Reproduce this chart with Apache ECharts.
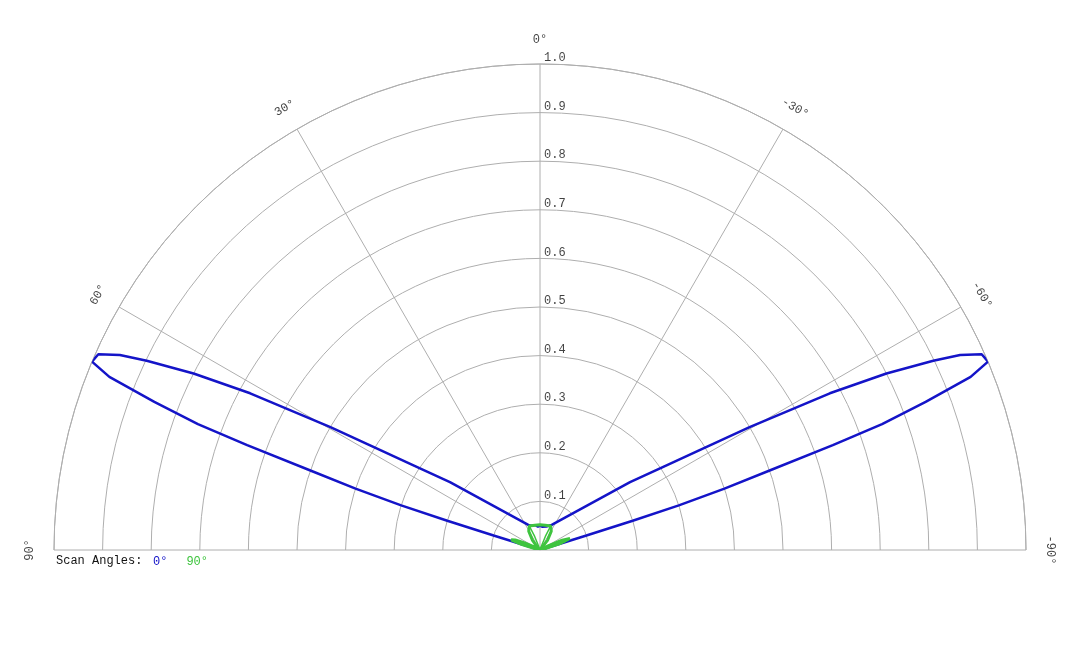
<!DOCTYPE html>
<html lang="en">
<head>
    <meta charset="UTF-8">
    <title>Scan Angles</title>
    <script src="https://cdn.jsdelivr.net/npm/echarts@6.0.0/dist/echarts.min.js"></script>
</head>
<style>
    *{
        margin: 0;
        padding: 0;
    }
    html,body{
        width: 100%;
        height: 100%;
        overflow: hidden;
        background: #fff;
    }
    .container{
        width: 1080px;
        height: 648px;
    }
</style>
<body>
<div class="container"></div>
<script>
    // scan angle 0 deg (blue), right lobe -> cap -> left lobe
    let blueAngles = [-90, -76, -73, -72.8, -72.7, -72.5, -72.2, -71.6, -70.9, -70.3, -69.8, -69.0, -68.1, -67.2,
        -66.1, -65.1, -64.3, -63.0, -61.6, -59.6, -58.1, -56.0, -53.0,
        -25, -20, -15, -10, -5, 0, 5, 10, 15, 20, 25,
        53.0, 56.0, 58.1, 59.6, 61.6, 63.0, 64.3, 65.1, 66.1,
        67.2, 68.1, 69.0, 69.8, 70.3, 70.9, 71.6, 72.2, 72.5, 72.7, 72.8, 73, 76, 90];
    let blueValues = [0, 0, 0.02, 0.05, 0.10, 0.20, 0.30, 0.40, 0.50, 0.64, 0.75, 0.85, 0.955, 1.0,
        0.994, 0.953, 0.898, 0.80, 0.678, 0.50, 0.396, 0.306, 0.232,
        0.057, 0.053, 0.050, 0.052, 0.048, 0.050, 0.048, 0.052, 0.050, 0.053, 0.057,
        0.232, 0.306, 0.396, 0.50, 0.678, 0.80, 0.898, 0.953, 0.994,
        1.0, 0.955, 0.85, 0.75, 0.64, 0.50, 0.40, 0.30, 0.20, 0.10, 0.05, 0.02, 0, 0];

    // scan angle 90 deg (green)
    let greenAngles = [-90, -78, -76, -72, -69, -66, -63, -58, -45, -38, -31, -24, -12, 0, 12, 24, 31, 38, 45, 58,
        63, 65, 68, 70.5, 73, 76, 78, 90];
    let greenValues = [0, 0, 0.008, 0.045, 0.066, 0.05, 0.02, 0, 0.005, 0.025, 0.045, 0.054, 0.052, 0.052, 0.052, 0.054, 0.045, 0.025, 0.005, 0,
        0.02, 0.035, 0.055, 0.063, 0.04, 0.008, 0, 0];
    // thin inner strands of the green trace under the cap
    let greenInnerAngles = [24, 21.5, 20, 0, -20, -21.5, -24];
    let greenInnerValues = [0.054, 0.03, 0.01, 0, 0.01, 0.03, 0.054];

    let angleTicks = [90, 60, 30, 0, -30, -60, -90];
    let radiusTicks = [0.1, 0.2, 0.3, 0.4, 0.5, 0.6, 0.7, 0.8, 0.9, 1.0];
    let scanNames = ['0°', '90°'];

    let blue = '#1414c8';
    let green = '#3ec43e';
    let gridColor = '#aeaeae';
    let textColor = '#111';
    let mono = "'Liberation Mono', 'Courier New', monospace";

    let container = document.querySelector('.container');
    let mycharts = echarts.init(container);

    function pairs(angles, values) {
        return angles.map((a, i) => [values[i], a]);
    }

    option = {
        animation: false,
        title: {
            text: 'Scan Angles:',
            left: 56,
            top: 555,
            padding: 0,
            textStyle: {
                fontFamily: mono,
                fontSize: 12,
                fontWeight: 'normal',
                color: textColor
            }
        },
        legend: {
            left: 148,
            top: 555,
            padding: 0,
            icon: 'none',
            itemWidth: 0,
            itemGap: 14,
            selectedMode: false,
            textStyle: {
                fontFamily: mono,
                fontSize: 12
            },
            data: [
                {name: scanNames[0], textStyle: {color: blue}},
                {name: scanNames[1], textStyle: {color: green}}
            ]
        },
        polar: {
            center: [540, 550],
            radius: 486
        },
        angleAxis: {
            type: 'value',
            min: -90,
            max: 90,
            interval: 30,
            startAngle: 0,
            endAngle: 180,
            clockwise: false,
            axisLine: {lineStyle: {color: gridColor, width: 1}},
            axisTick: {show: false},
            axisLabel: {show: false},
            splitLine: {lineStyle: {color: gridColor, width: 1}}
        },
        radiusAxis: {
            type: 'value',
            min: 0,
            max: 1,
            interval: 0.1,
            axisLine: {show: false},
            axisTick: {show: false},
            axisLabel: {show: false},
            splitLine: {lineStyle: {color: gridColor, width: 1}}
        },
        series: [
            {
                name: scanNames[0],
                type: 'line',
                coordinateSystem: 'polar',
                symbol: 'none',
                clip: false,
                lineStyle: {color: blue, width: 2.5},
                itemStyle: {color: blue},
                data: pairs(blueAngles, blueValues)
            },
            {
                name: scanNames[1],
                type: 'line',
                coordinateSystem: 'polar',
                symbol: 'none',
                clip: false,
                lineStyle: {color: green, width: 3},
                itemStyle: {color: green},
                data: pairs(greenAngles, greenValues)
            },
            {
                name: scanNames[1],
                type: 'line',
                coordinateSystem: 'polar',
                symbol: 'none',
                clip: false,
                lineStyle: {color: green, width: 1.5},
                itemStyle: {color: green},
                data: pairs(greenInnerAngles, greenInnerValues)
            },
            {
                name: 'angleTicks',
                type: 'scatter',
                coordinateSystem: 'polar',
                symbolSize: 0,
                silent: true,
                clip: false,
                label: {
                    show: true,
                    position: 'inside',
                    fontFamily: mono,
                    fontSize: 12,
                    color: textColor
                },
                data: angleTicks.map(a => ({
                    value: [1.05, a],
                    label: {rotate: a, formatter: a + '°'}
                }))
            },
            {
                name: 'radiusTicks',
                type: 'scatter',
                coordinateSystem: 'polar',
                symbolSize: 0,
                silent: true,
                clip: false,
                label: {
                    show: true,
                    position: 'right',
                    distance: 4,
                    offset: [0, -6],
                    fontFamily: mono,
                    fontSize: 12,
                    color: textColor,
                    formatter: p => p.value[0].toFixed(1)
                },
                data: radiusTicks.map(r => [r, 0])
            }
        ]
    };

    mycharts.setOption(option);
</script>
</body>
</html>
